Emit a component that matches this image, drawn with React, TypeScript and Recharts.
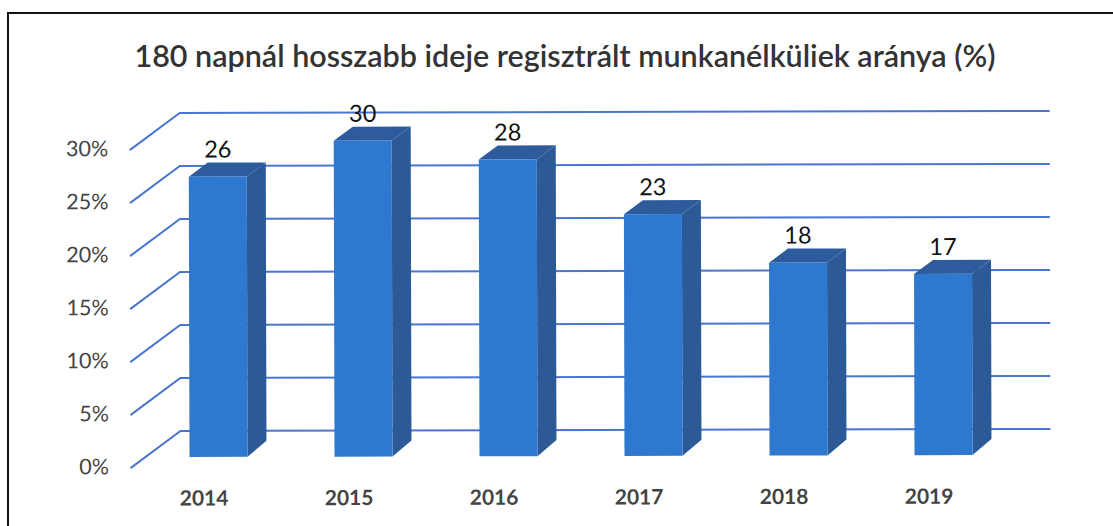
import React from "react";
import { BarChart, Bar, XAxis, YAxis, CartesianGrid } from "recharts";

const title = "180 napnál hosszabb ideje regisztrált munkanélküliek aránya (%)";
const years = ["2014", "2015", "2016", "2017", "2018", "2019"];
const shares = [26.45, 29.8, 28.0, 22.8, 18.2, 17.1];
const yTicks = [0, 5, 10, 15, 20, 25, 30];

const data = years.map((year, i) => ({ year, share: shares[i] }));

const FONT = "Lato, 'Noto Sans', sans-serif";
const DX = 19;
const DY = 14;
const GRID = "#4a76d2";

const Bar3D = (props: any) => {
  const { x, y, width, height } = props;
  const r = x + width;
  const b = y + height;
  return (
    <g>
      <polygon points={`${x},${y} ${x + DX},${y - DY} ${r + DX},${y - DY} ${r},${y}`} fill="#2d5b9b" />
      <polygon points={`${r},${y} ${r + DX},${y - DY} ${r + DX},${b - DY - 2} ${r},${b}`} fill="#2b5a96" />
      <rect x={x} y={y} width={width} height={height} fill="#2f78cf" />
    </g>
  );
};

const GridLine = (props: any) => {
  const { x1, x2, y1 } = props;
  return (
    <polyline
      points={`${x1 - 15},${y1 + 11} ${x1 + 35},${y1 - 26} ${x2 + 35},${y1 - 26}`}
      fill="none"
      stroke={GRID}
      strokeWidth={2}
    />
  );
};

const YTick = (props: any) => (
  <text x={109} y={props.y + 9} textAnchor="end" dominantBaseline="central" fontFamily={FONT} fontSize={21.5} fill="#444">
    {props.payload.value}%
  </text>
);

const XTick = (props: any) => (
  <text x={props.x - 14} y={497} textAnchor="middle" dominantBaseline="central" fontFamily={FONT} fontWeight={700} fontSize={21} fill="#444">
    {props.payload.value}
  </text>
);

const ValueLabel = (props: any) => (
  <text
    x={props.x + props.width / 2}
    y={props.y - 28}
    textAnchor="middle"
    dominantBaseline="central"
    fontFamily={FONT}
    fontSize={23.5}
    fill="#111"
  >
    {Math.round(props.value)}
  </text>
);

export default function App() {
  return (
    <div style={{ position: "absolute", left: 0, top: 0, width: 1113, height: 526, overflow: "hidden", background: "#fff" }}>
      <div style={{ position: "absolute", left: 7, top: 12, width: 1106, height: 2, background: "#111" }} />
      <div style={{ position: "absolute", left: 7, top: 12, width: 2, height: 514, background: "#111" }} />
      <div
        style={{
          position: "absolute",
          left: 0,
          top: 38,
          width: 1130,
          textAlign: "center",
          fontFamily: FONT,
          fontWeight: 600,
          fontSize: 30.5,
          lineHeight: "34px",
          color: "#333",
          whiteSpace: "nowrap",
        }}
      >
        {title}
      </div>
      <div style={{ position: "absolute", left: 0, top: 0, transformOrigin: "189px 457px", transform: "rotate(-0.14deg)" }}>
        <BarChart
          width={1113}
          height={526}
          data={data}
          margin={{ left: 144.5, right: 97.5, top: 139, bottom: 68 }}
        >
          <CartesianGrid vertical={false} horizontal={GridLine as any} />
          <XAxis dataKey="year" axisLine={false} tickLine={false} height={1} tick={XTick as any} interval={0} />
          <YAxis domain={[0, 30]} ticks={yTicks} axisLine={false} tickLine={false} width={1} tick={YTick as any} interval={0} />
          <Bar dataKey="share" barSize={58} isAnimationActive={false} shape={Bar3D as any} label={ValueLabel as any} />
        </BarChart>
      </div>
    </div>
  );
}
